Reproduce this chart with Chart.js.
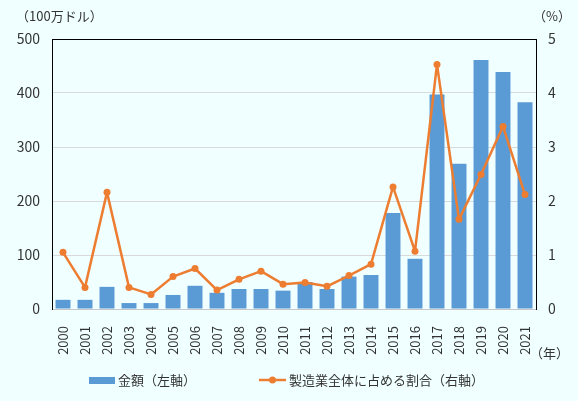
<!DOCTYPE html>
<html lang="ja">
<head>
<meta charset="utf-8">
<title>金額と製造業全体に占める割合</title>
<script src="https://cdn.jsdelivr.net/npm/chart.js@4.4.1/dist/chart.umd.min.js"></script>
<style>
  html, body { margin: 0; padding: 0; background: #f0ffff; }
  #grafico { display: block; }
</style>
</head>
<body>
<canvas id="grafico" width="578" height="401"></canvas>
<script>
const anios = ['2000', '2001', '2002', '2003', '2004', '2005', '2006', '2007', '2008', '2009', '2010',
  '2011', '2012', '2013', '2014', '2015', '2016', '2017', '2018', '2019', '2020', '2021'];

// 金額（100万ドル）
const montos = [17, 17, 41, 11, 11, 26, 43, 30, 37, 37, 34, 50, 37, 60, 63, 178, 93, 397, 269, 461, 439, 383];

// 製造業全体に占める割合（%）
const porcentajes = [1.05, 0.40, 2.16, 0.40, 0.27, 0.60, 0.75, 0.35, 0.55, 0.70, 0.46, 0.49, 0.42, 0.62, 0.83,
  2.26, 1.07, 4.53, 1.66, 2.49, 3.38, 2.12];

const ticksIzq = [0, 100, 200, 300, 400, 500];
const ticksDer = [0, 1, 2, 3, 4, 5];

const AZUL = '#5b9bd5';
const NARANJA = '#ed7d31';
const FUENTE = '"Noto Sans CJK JP", "Noto Sans", sans-serif';

// textos fuera del área y la leyenda
const textosExtra = {
  id: 'textosExtra',
  afterDraw(chart) {
    const c = chart.ctx;
    c.save();
    c.fillStyle = '#333';
    c.font = '13px ' + FUENTE;
    c.textBaseline = 'middle';
    c.textAlign = 'left';
    c.fillText('（100万ドル）', 16, 16);
    c.fillText('（%）', 533, 16);
    c.fillText('（年）', 530, 353);

    // leyenda
    const ly = 380;
    c.fillStyle = AZUL;
    c.fillRect(89, ly - 3, 26, 7);
    c.strokeStyle = NARANJA;
    c.lineWidth = 2.5;
    c.beginPath();
    c.moveTo(259, ly);
    c.lineTo(286, ly);
    c.stroke();
    c.fillStyle = NARANJA;
    c.beginPath();
    c.arc(272.5, ly, 3.5, 0, Math.PI * 2);
    c.fill();

    c.fillStyle = '#333';
    c.fillText(chart.data.datasets[0].label, 118, ly);
    c.fillText(chart.data.datasets[1].label, 289, ly);
    c.restore();
  }
};

new Chart(document.getElementById('grafico'), {
  data: {
    labels: anios,
    datasets: [
      {
        type: 'bar',
        label: '金額（左軸）',
        data: montos,
        backgroundColor: AZUL,
        barPercentage: 0.68,
        categoryPercentage: 1,
        yAxisID: 'y',
        order: 2
      },
      {
        type: 'line',
        label: '製造業全体に占める割合（右軸）',
        data: porcentajes,
        borderColor: NARANJA,
        backgroundColor: NARANJA,
        borderWidth: 2.5,
        borderJoinStyle: 'round',
        borderCapStyle: 'round',
        pointRadius: 3.5,
        pointBorderWidth: 0,
        tension: 0,
        yAxisID: 'y1',
        order: 1
      }
    ]
  },
  options: {
    responsive: false,
    animation: false,
    devicePixelRatio: 1,
    layout: { padding: { top: 39, left: 0, right: 0, bottom: 0 } },
    plugins: {
      legend: { display: false },
      tooltip: { enabled: false }
    },
    scales: {
      x: {
        grid: { display: false },
        border: { color: '#c8c8c8', width: 1 },
        ticks: {
          color: '#333',
          font: { family: FUENTE, size: 13 },
          minRotation: 90,
          maxRotation: 90,
          padding: 9,
          autoSkip: false
        },
        afterFit(scale) { scale.height = 92; }
      },
      y: {
        position: 'left',
        min: 0,
        max: 500,
        afterBuildTicks(scale) { scale.ticks = ticksIzq.map(v => ({ value: v })); },
        grid: {
          drawTicks: false,
          color: ctx => (ctx.tick && ctx.tick.value === 500 ? '#000' : '#d9d9d9'),
          lineWidth: 1
        },
        border: { color: '#000', width: 1 },
        ticks: {
          color: '#333',
          font: { family: FUENTE, size: 14 },
          padding: 12
        },
        afterFit(scale) { scale.width = 52; }
      },
      y1: {
        position: 'right',
        min: 0,
        max: 5,
        afterBuildTicks(scale) { scale.ticks = ticksDer.map(v => ({ value: v })); },
        grid: { display: false, drawTicks: false },
        border: { color: '#000', width: 1 },
        ticks: {
          color: '#333',
          font: { family: FUENTE, size: 14 },
          padding: 12
        },
        afterFit(scale) { scale.width = 42; }
      }
    }
  },
  plugins: [textosExtra]
});
</script>
</body>
</html>
